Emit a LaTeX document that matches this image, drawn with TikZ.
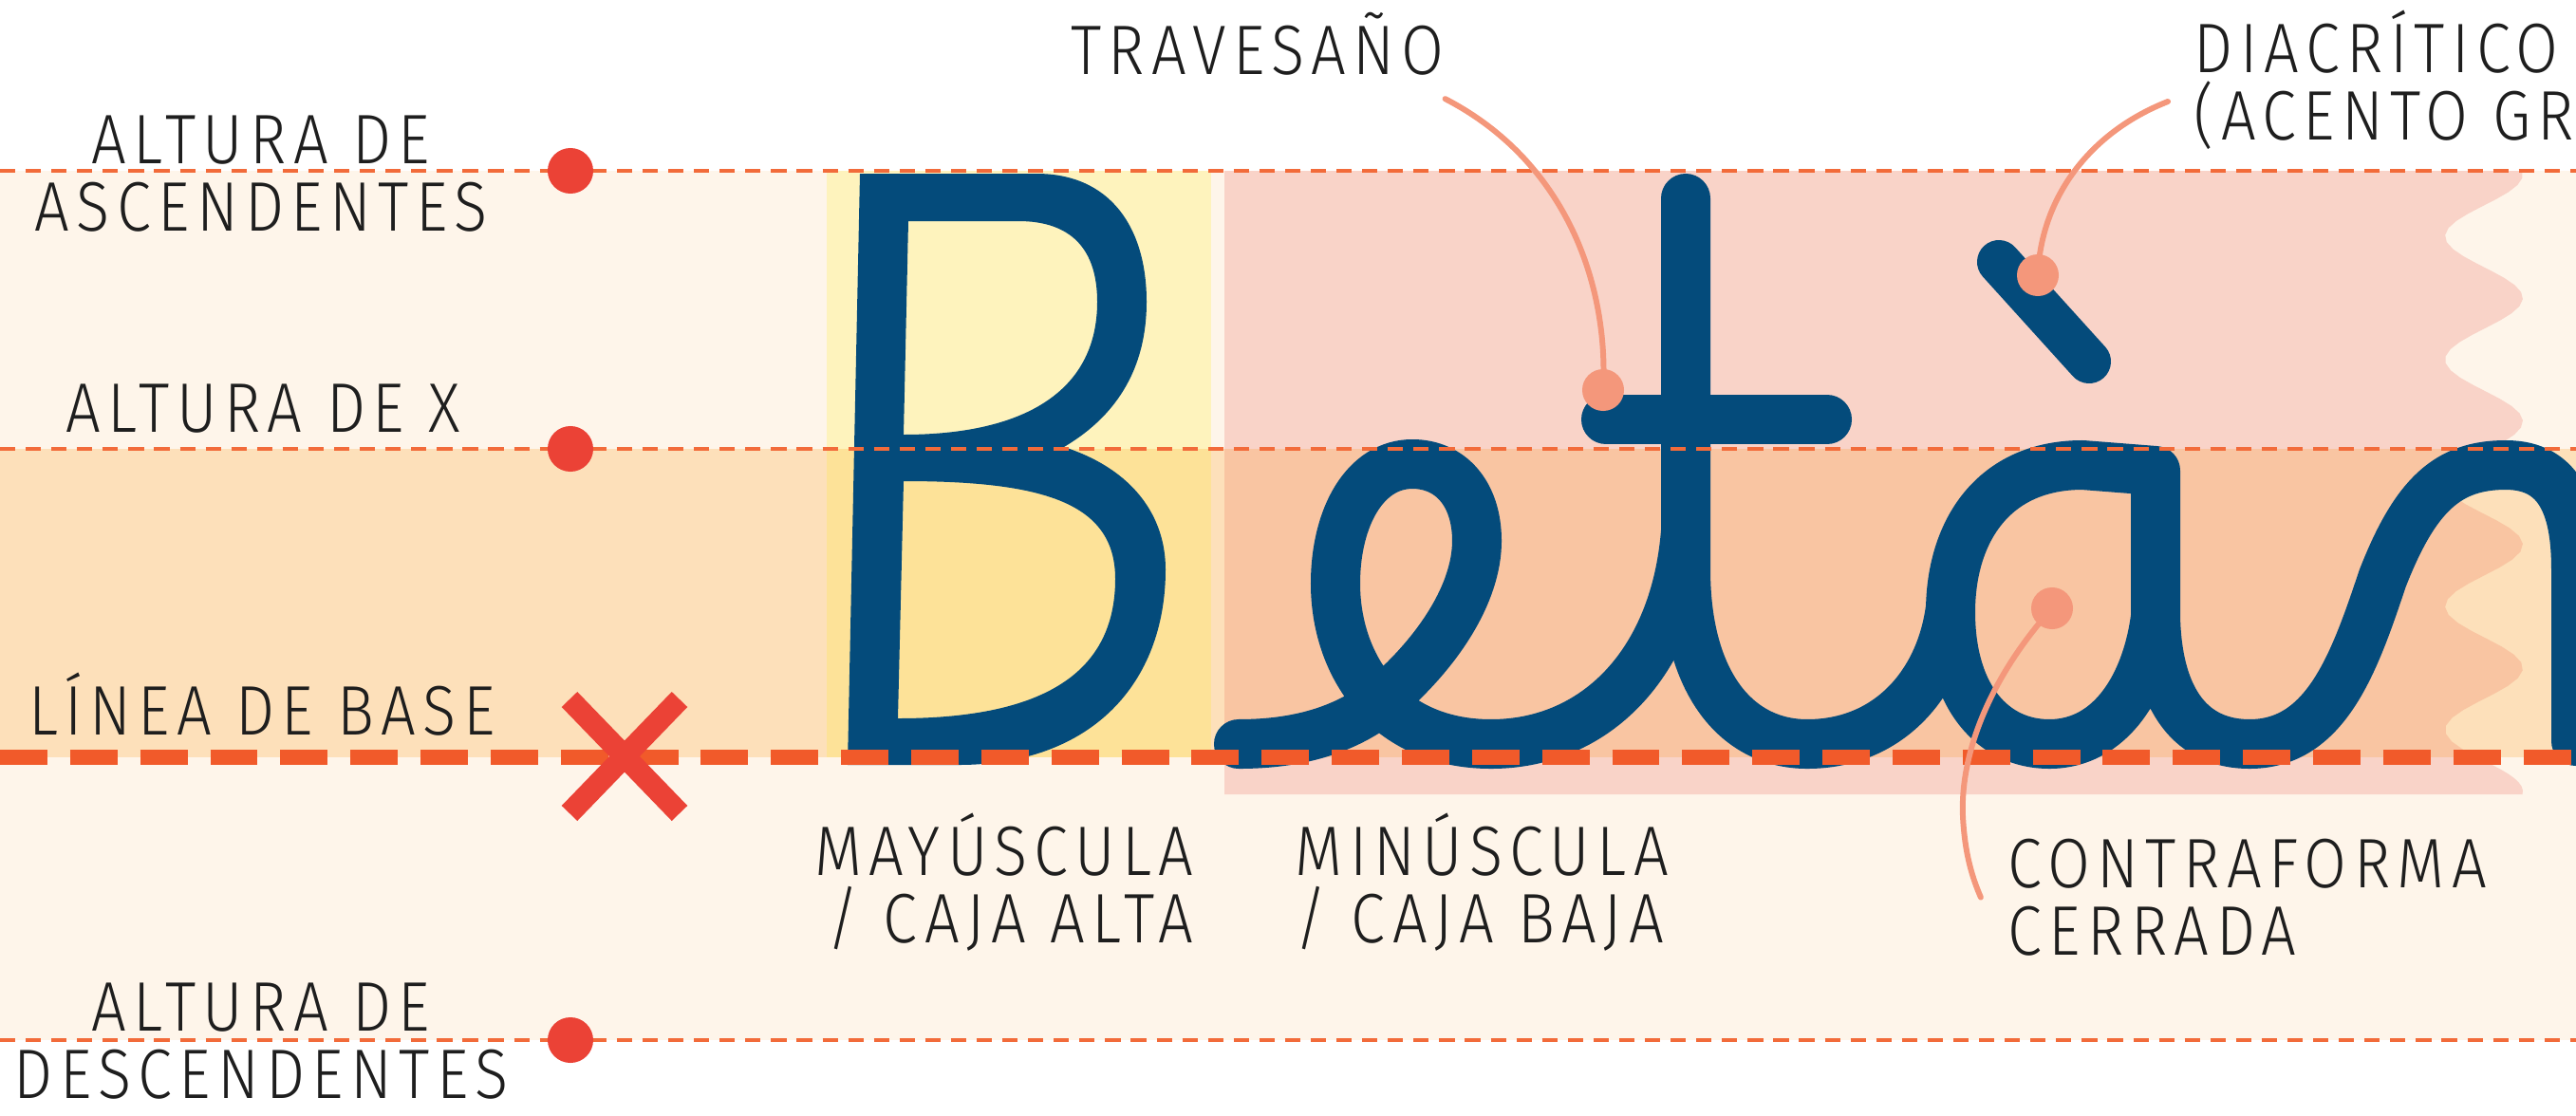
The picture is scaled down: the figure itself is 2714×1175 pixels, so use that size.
\documentclass[tikz,border=0pt]{standalone}
\usepackage{fontspec}
\newfontfamily\lblfont{Fira Sans}[UprightFont=* Light,FakeStretch=0.88,LetterSpace=10]
\definecolor{creamband}{HTML}{FEF5EA}
\definecolor{peachband}{HTML}{FDE0BA}
\definecolor{capyellow}{HTML}{FEF3BD}
\definecolor{capgold}{HTML}{FDE298}
\definecolor{lowpink}{HTML}{F9D3C8}
\definecolor{lowsalmon}{HTML}{F9C5A2}
\definecolor{inkblue}{HTML}{044B7B}
\definecolor{guideorange}{HTML}{F26B3A}
\definecolor{baseorange}{HTML}{F15A2A}
\definecolor{markred}{HTML}{EB4236}
\definecolor{callout}{HTML}{F4977B}
\definecolor{labelink}{HTML}{1E1E1E}
\tikzset{
  lbl/.style={font=\lblfont\fontsize{21}{20}\selectfont, text=labelink, inner sep=0pt},
  glyph/.style={draw=inkblue, line width=0.52cm, line cap=round, line join=round},
  guide/.style={draw=guideorange, line width=1.3pt, dash pattern=on 4.6pt off 3.1pt},
  baseguide/.style={draw=baseorange, line width=4.7pt, dash pattern=on 14.2pt off 6.8pt},
  leader/.style={draw=callout, line width=1.7pt, line cap=round},
  cdot/.style={circle, fill=callout, inner sep=0pt, minimum size=0.44cm},
  redx/.style={draw=markred, line width=0.23cm},
}
\begin{document}
\begin{tikzpicture}[x=0.01cm,y=-0.01cm]
  \useasboundingbox (0,0) rectangle (2714,1175);
  \clip (0,0) rectangle (2714,1175);
  % bands
  \fill[creamband] (0,180) rectangle (2714,473);
  \fill[peachband] (0,473) rectangle (2714,798);
  \fill[creamband] (0,798) rectangle (2714,1096);
  % capital and lowercase areas
  \fill[capyellow] (871,180) rectangle (1276,473);
  \fill[capgold] (871,473) rectangle (1276,798);
  \fill[lowpink] (1290,180) -- plot[domain=180:473,samples=40] ({2617+41*cos(2.769*(\x-184))},\x) -- (1290,473) -- cycle;
  \fill[lowsalmon] (1290,473) -- plot[domain=473:798,samples=40] ({2617+41*cos(2.769*(\x-184))},\x) -- (1290,798) -- cycle;
  \fill[lowpink] (1290,798) -- plot[domain=798:837,samples=10] ({2617+41*cos(2.769*(\x-184))},\x) -- (1290,837) -- cycle;
  % B
  \fill[inkblue, even odd rule]
    (906,183) -- (1092,183) .. controls (1170,183) and (1208,240) .. (1208,318)
      .. controls (1208,400) and (1165,445) .. (1121,471)
      .. controls (1195,495) and (1228,545) .. (1228,600)
      .. controls (1228,720) and (1150,806) .. (1010,806) -- (893,806) -- cycle
    (957,233) -- (1073,233) .. controls (1128,233) and (1156,262) .. (1156,318)
      .. controls (1156,415) and (1075,458) .. (952,458) -- cycle
    (952,507) .. controls (1100,507) and (1175,530) .. (1175,610)
      .. controls (1175,715) and (1090,757) .. (946,757) -- cycle;
  % e + t
  \draw[glyph] (1305,784) .. controls (1370,784) and (1415,768) .. (1449,744)
    .. controls (1515,690) and (1556,625) .. (1556,570)
    .. controls (1556,520) and (1528,489) .. (1488,489)
    .. controls (1438,489) and (1407,545) .. (1407,615)
    .. controls (1407,700) and (1460,784) .. (1571,784)
    .. controls (1680,784) and (1765,700) .. (1776,560);
  \draw[glyph] (1776,209) -- (1776,600) .. controls (1776,720) and (1830,784) .. (1904,784)
    .. controls (1990,784) and (2045,720) .. (2055,640);
  \draw[glyph] (1692,442) -- (1925,442);
  % a + n
  \draw[glyph] (2271,650) .. controls (2262,720) and (2225,784) .. (2159,784)
    .. controls (2100,784) and (2055,735) .. (2055,645)
    .. controls (2055,560) and (2100,490) .. (2194,490) -- (2271,496) -- (2271,650)
    .. controls (2273,740) and (2310,784) .. (2370,784)
    .. controls (2450,784) and (2480,700) .. (2510,610)
    .. controls (2545,520) and (2580,490) .. (2640,490)
    .. controls (2700,490) and (2714,540) .. (2714,600) -- (2714,781);
  \draw[glyph, line width=0.46cm] (2106,276) -- (2201,381);
  % guide lines
  \foreach \y in {180,473,1096} \draw[guide] (0,\y) -- (2714,\y);
  \draw[baseguide] (0,798) -- (2714,798);
  \foreach \y in {180,473,1096} \fill[markred] (601,\y) circle (0.24cm);
  \draw[redx] (600,737) -- (716,857) (716,737) -- (600,857);
  % labels (base = last line)
  \node[lbl, anchor=base, align=center] (asc) at (275,243) {ALTURA DE\\ASCENDENTES};
  \node[lbl, anchor=base] (xh) at (277,455) {ALTURA DE X};
  \node[lbl, anchor=base] (bl) at (276,774) {LÍNEA DE BASE};
  \node[lbl, anchor=base, align=center] (desc) at (275,1157) {ALTURA DE\\DESCENDENTES};
  \node[lbl, anchor=base east, align=right] (mayus) at (1258,993) {MAYÚSCULA\\/ CAJA ALTA};
  \node[lbl, anchor=base west, align=left] (minus) at (1364,993) {MINÚSCULA\\/ CAJA BAJA};
  \node[lbl, anchor=base] (trav) at (1325,78) {TRAVESAÑO};
  \node[lbl, anchor=base west, align=left] (diac) at (2311,147) {DIACRÍTICO\\(ACENTO GRAVE)};
  \node[lbl, anchor=base west, align=left] (cont) at (2115,1006) {CONTRAFORMA\\CERRADA};
  % callouts
  \coordinate (diacfoot) at (2284,107);
  \draw[leader] ([yshift=-7pt]trav.south east) .. controls (1650,170) and (1695,300) .. (1689,411);
  \draw[leader] (diacfoot) .. controls (2200,140) and (2150,210) .. (2147,290);
  \draw[leader] (2162,641) .. controls (2100,710) and (2065,790) .. (2068,860)
    .. controls (2070,900) and (2078,925) .. ([xshift=-8pt]cont.west);
  \node[cdot] (travdot) at (1689,411) {};
  \node[cdot] (diacdot) at (2147,290) {};
  \node[cdot] (contdot) at (2162,641) {};
\end{tikzpicture}
\end{document}
